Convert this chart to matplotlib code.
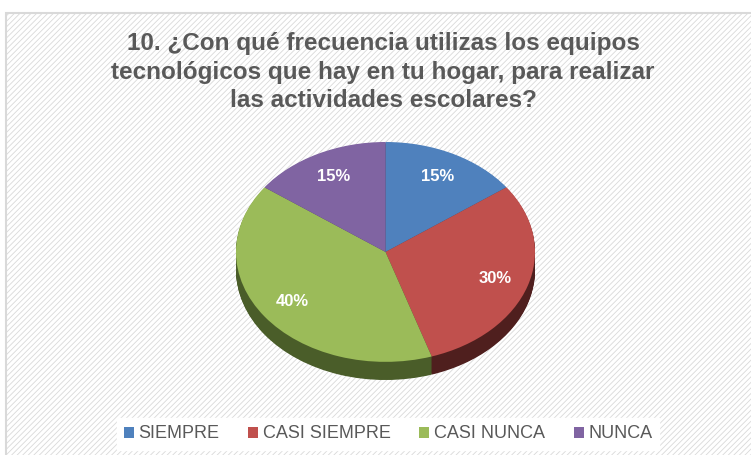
import matplotlib.pyplot as plt
from matplotlib.patches import Rectangle

categorias = ['SIEMPRE', 'CASI SIEMPRE', 'CASI NUNCA', 'NUNCA']
porcentajes = [15, 30, 40, 15]
colores = ['#4F81BD', '#C0504D', '#9BBB59', '#8064A2']
colores_lado = ['#2E4C70', '#4F1F1E', '#4A5D29', '#4A3A60']
titulo = '10. ¿Con qué frecuencia utilizas los equipos\ntecnológicos que hay en tu hogar, para realizar\nlas actividades escolares?'

W, H = 751, 455
plt.rcParams['font.family'] = ['Liberation Sans', 'DejaVu Sans']
plt.rcParams['hatch.color'] = '#F0F0F0'
plt.rcParams['hatch.linewidth'] = 0.6

fig = plt.figure(figsize=(W / 100, H / 100), dpi=100)
fondo = fig.add_axes([0, 0, 1, 1])
fondo.set_xlim(0, W)
fondo.set_ylim(H, 0)
fondo.axis('off')

# marco del grafico con fondo rayado
fondo.add_patch(Rectangle((6, 13), W + 10, H, facecolor='white', edgecolor='#D9D9D9',
                          linewidth=1.5, hatch='//////'))
fondo.text(383, 72, titulo, ha='center', va='center', fontsize=17.5, fontweight='bold',
           color='#595959', linespacing=1.3)

# pastel con efecto 3D
ax = fig.add_axes([236 / W, 1 - 380 / H, 299 / W, 238 / H])
prof = 0.165
pasos = 24
for k in range(pasos, 0, -1):
    ax.pie(porcentajes, colors=colores_lado, startangle=90, counterclock=False,
           center=(0, -prof * k / pasos), radius=1, wedgeprops={'linewidth': 0})
cunas, _, textos = ax.pie(porcentajes, colors=colores, startangle=90, counterclock=False,
                          radius=1, autopct='%d%%', pctdistance=0.77,
                          wedgeprops={'linewidth': 0},
                          textprops={'color': 'white', 'fontsize': 12, 'fontweight': 'bold'})
ax.set_aspect('auto')
ax.set_xlim(-1, 1)
ax.set_ylim(-1 - prof, 1)
ax.axis('off')

ley = fig.legend(cunas, categorias, loc='center', bbox_to_anchor=(388 / W, 1 - 434 / H),
                 ncol=4, frameon=True, fancybox=False, edgecolor='white', facecolor='white',
                 framealpha=1, fontsize=13, handlelength=0.55, handleheight=0.55,
                 handletextpad=0.25, columnspacing=1.6, borderpad=0.4)
for t in ley.get_texts():
    t.set_color('#595959')

fig.savefig('out.png', dpi=100)
